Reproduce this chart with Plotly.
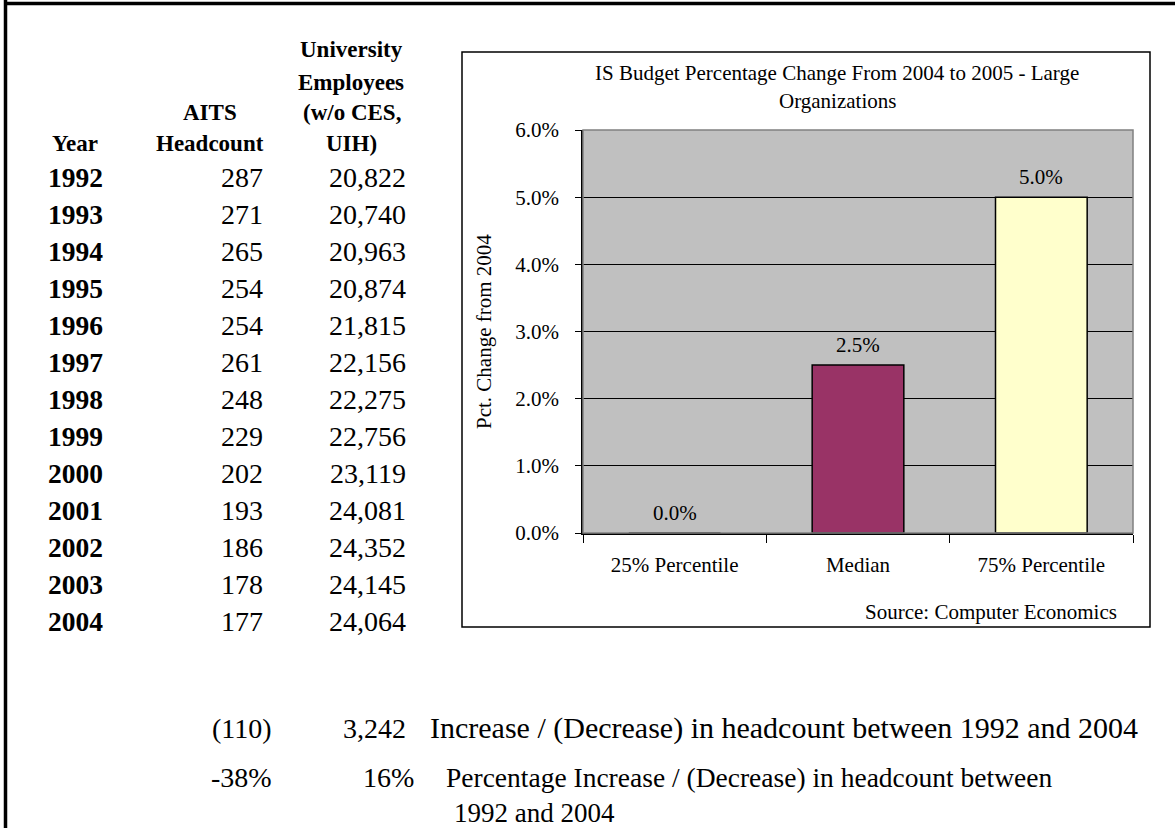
import plotly.graph_objects as go

# ---------------- data ----------------
years = [1992, 1993, 1994, 1995, 1996, 1997, 1998, 1999, 2000, 2001, 2002, 2003, 2004]
aits_headcount = [287, 271, 265, 254, 254, 261, 248, 229, 202, 193, 186, 178, 177]
univ_employees = [20822, 20740, 20963, 20874, 21815, 22156, 22275, 22756, 23119, 24081, 24352, 24145, 24064]

bar_categories = ["25% Percentile", "Median", "75% Percentile"]
bar_values = [0.0, 2.5, 5.0]
bar_colors = ["#9999FF", "#993366", "#FFFFCC"]

chart_title_lines = ["IS Budget Percentage Change From 2004 to 2005 - Large", "Organizations"]
y_title = "Pct. Change from 2004"
source_note = "Source: Computer Economics"

# ---------------- layout geometry (pixels) ----------------
W, H = 1175, 828
L, R, T, B = 583, 1133, 130, 533
FONT = "Liberation Serif, Times New Roman, serif"


def fx(px):
    return (px - L) / (R - L)


def fy(py):
    return (B - py) / (B - T)


def acct(v):
    return f"({abs(v):,})" if v < 0 else f"{v:,}"


fig = go.Figure()
fig.add_trace(go.Bar(
    x=bar_categories, y=bar_values,
    marker=dict(color=bar_colors, line=dict(color="black", width=1.5)),
    hoverinfo="skip", showlegend=False,
))

annotations = []


def txt(px, py, s, size, xanchor="center", bold=False, color="black", **kw):
    annotations.append(dict(
        x=fx(px), y=fy(py), xref="paper", yref="paper",
        text=f"<b>{s}</b>" if bold else s, showarrow=False,
        xanchor=xanchor, yanchor="middle",
        font=dict(family=FONT, size=size, color=color), **kw))


# bar data labels (positioned through the data axes)
for c, v in zip(bar_categories, bar_values):
    annotations.append(dict(
        x=c, y=v, xref="x", yref="y", text=f"{v:.1f}%", showarrow=False,
        yanchor="bottom", yshift=6,
        font=dict(family=FONT, size=21, color="black")))

# chart title / axis title / source
txt(837, 73, chart_title_lines[0], 21)
txt(837, 101, chart_title_lines[1], 21)
txt(484, 332, y_title, 21, textangle=-90)
txt(1119, 612, source_note, 21, xanchor="right")

# table headers
HS = 23
txt(351, 50, "University", HS, bold=True)
txt(351, 82, "Employees", HS, bold=True)
txt(210, 112, "AITS", HS, bold=True)
txt(352, 112, "(w/o CES,", HS, bold=True)
txt(75, 143, "Year", HS, bold=True)
txt(210, 143, "Headcount", HS, bold=True)
txt(351, 143, "UIH)", HS, bold=True)

# table rows
ROW0, ROWH = 177, 37.08
for i, (yr, a, u) in enumerate(zip(years, aits_headcount, univ_employees)):
    py = ROW0 + i * ROWH
    txt(75, py, str(yr), 27.5, bold=True)
    txt(265, py, acct(a), 28, xanchor="right")
    txt(408, py, acct(u), 28, xanchor="right")

# summary rows
d_aits = aits_headcount[-1] - aits_headcount[0]
d_univ = univ_employees[-1] - univ_employees[0]
p_aits = d_aits / aits_headcount[0] * 100
p_univ = d_univ / univ_employees[0] * 100
txt(274 if d_aits < 0 else 265, 728, acct(d_aits), 28, xanchor="right")
txt(408 if d_univ >= 0 else 417, 728, acct(d_univ), 28, xanchor="right")
txt(428, 728, "Increase / (Decrease) in headcount between 1992 and 2004", 30, xanchor="left")
txt(274, 777, f"{p_aits:.0f}%", 28, xanchor="right")
txt(416, 777, f"{p_univ:.0f}%", 28, xanchor="right")
txt(444, 777, "Percentage Increase / (Decrease) in headcount between", 27.5, xanchor="left")
txt(452, 813, "1992 and 2004", 27, xanchor="left")

shapes = [
    # page border (top and left)
    dict(type="line", xref="paper", yref="paper", x0=fx(4), x1=fx(1175), y0=fy(3.5), y1=fy(3.5),
         line=dict(color="black", width=3.5)),
    dict(type="line", xref="paper", yref="paper", x0=fx(5.5), x1=fx(5.5), y0=fy(0), y1=fy(828),
         line=dict(color="black", width=3.5)),
    # chart box
    dict(type="rect", xref="paper", yref="paper", x0=fx(462), x1=fx(1150), y0=fy(52), y1=fy(627),
         line=dict(color="black", width=1.5), fillcolor="rgba(0,0,0,0)"),
    # plot area border (grey)
    dict(type="rect", xref="paper", yref="paper", x0=0, x1=1, y0=0, y1=1,
         line=dict(color="#808080", width=1.5), fillcolor="rgba(0,0,0,0)", layer="above"),
]

fig.update_layout(
    width=W, height=H, autosize=False,
    margin=dict(l=L, r=W - R, t=T, b=H - B, pad=0),
    paper_bgcolor="white", plot_bgcolor="#C0C0C0",
    bargap=0.5, showlegend=False,
    font=dict(family=FONT, size=21, color="black"),
    annotations=annotations, shapes=shapes,
)
fig.update_xaxes(
    showline=True, linecolor="black", linewidth=1.5,
    ticks="outside", tickson="boundaries", ticklen=8, tickcolor="black", tickwidth=1,
    showgrid=False, ticklabelstandoff=12,
    tickfont=dict(family=FONT, size=21, color="black"),
)
fig.update_yaxes(
    range=[0, 6], tick0=0, dtick=1, tickformat=".1f", ticksuffix="%",
    showline=True, linecolor="black", linewidth=1.5,
    ticks="outside", ticklen=6, tickcolor="black",
    showgrid=True, gridcolor="black", gridwidth=1, zeroline=False,
    ticklabelstandoff=12,
    tickfont=dict(family=FONT, size=21, color="black"),
)

fig.write_html("out.html", config={"displayModeBar": False, "responsive": False})
